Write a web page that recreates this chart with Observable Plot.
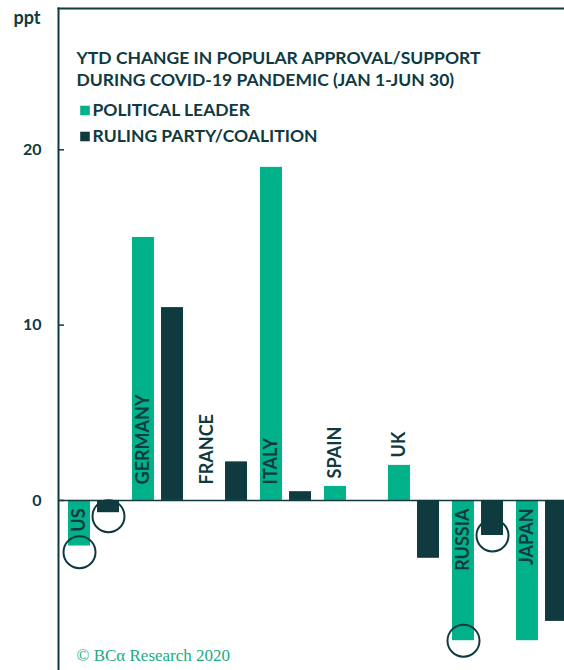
<!DOCTYPE html>
<html>
<head>
<meta charset="utf-8">
<script src="https://cdn.jsdelivr.net/npm/d3@7"></script>
<script src="https://cdn.jsdelivr.net/npm/@observablehq/plot@0.6"></script>
<style>
  html, body { margin: 0; padding: 0; background: #fff; }
  #chart svg { display: block; }
</style>
</head>
<body>
<div id="chart"></div>
<script>
// ---- data ----
const countries = ["US", "GERMANY", "FRANCE", "ITALY", "SPAIN", "UK", "RUSSIA", "JAPAN"];
const leaderValues = [-2.6, 15, 0, 19, 0.8, 2.0, -8.0, -8.0];
const partyValues = [-0.7, 11, 2.2, 0.5, 0, -3.3, -2.0, -6.9];
const yTicks = [0, 10, 20];
const titleLines = ["YTD CHANGE IN POPULAR APPROVAL/SUPPORT", "DURING COVID-19 PANDEMIC (JAN 1-JUN 30)"];
const legendLabels = ["POLITICAL LEADER", "RULING PARTY/COALITION"];
const yUnit = "ppt";
const sourceNote = "© BCα Research 2020";
// circled bar ends
const circledCountries = ["US", "US", "RUSSIA", "RUSSIA"];
const circledSeries = ["leader", "party", "leader", "party"];
const circledValues = [-2.95, -0.9, -8.0, -2.0];

// ---- styles ----
const GREEN = "#00B189";
const DARK = "#0E3A40";
const FONT = "Lato, 'Open Sans', sans-serif";
const W = 564, H = 670;
const mLeft = 58;
const yMin = -9.7, yMax = 28.06;
const barW = 23;
const half = 14.5;

const rows = countries.map((c, i) => ({country: c, leader: leaderValues[i], party: partyValues[i]}));
const circles = circledCountries.map((c, i) => ({country: c, series: circledSeries[i], value: circledValues[i]}));

const inside = rows.filter(d => d.leader >= 5 || d.leader === 0);
const above = rows.filter(d => d.leader > 0 && d.leader < 5);
const below = rows.filter(d => d.leader < 0);

const labelStyle = {
  rotate: -90, fontSize: 18, fontWeight: 700, fill: DARK, fontFamily: FONT, dx: -half
};
const headStyle = {frameAnchor: "top-left", lineAnchor: "middle", textAnchor: "start", fontWeight: 700, fill: DARK, fontFamily: FONT};

const plot = Plot.plot({
  width: W,
  height: H,
  marginLeft: mLeft,
  marginRight: 0,
  marginTop: 8,
  marginBottom: 0,
  style: {background: "#fff", color: DARK, fontFamily: FONT, overflow: "visible"},
  x: {type: "band", domain: countries, range: [mLeft, 577], paddingInner: 0.196, paddingOuter: 0.108, axis: null},
  y: {domain: [yMin, yMax], axis: null},
  marks: [
    Plot.frame({anchor: "left", stroke: DARK, strokeWidth: 2}),
    Plot.frame({anchor: "top", stroke: DARK, strokeWidth: 2}),
    Plot.barY(rows, {x: "country", y: "leader", fill: GREEN, insetRight: 52.03 - barW}),
    Plot.barY(rows, {x: "country", y: "party", fill: DARK, insetLeft: 52.03 - barW}),
    Plot.ruleY([0], {stroke: DARK, strokeWidth: 1.5}),
    // inward tick marks on the y axis
    Plot.tickY(yTicks, {y: d => d, stroke: DARK, strokeWidth: 1.5, insetRight: W - mLeft - 6}),
    Plot.axisY(yTicks, {anchor: "left", tickSize: 0, tickPadding: 17, fontSize: 16, fontWeight: 700, fill: DARK, fontFamily: FONT, label: null}),
    Plot.text(inside, {x: "country", y: () => 0, text: "country", textAnchor: "start", dy: -16, ...labelStyle}),
    Plot.text(above, {x: "country", y: "leader", text: "country", textAnchor: "start", dy: -8, ...labelStyle}),
    Plot.text(below, {x: "country", y: () => 0, text: "country", textAnchor: "end", dy: 8, ...labelStyle}),
    Plot.dot(circles.filter(d => d.series === "leader"), {x: "country", y: "value", r: 16, stroke: DARK, strokeWidth: 2, fill: "none", dx: -half}),
    Plot.dot(circles.filter(d => d.series === "party"), {x: "country", y: "value", r: 16, stroke: DARK, strokeWidth: 2, fill: "none", dx: half}),
    // unit label
    Plot.text([yUnit], {text: d => d, ...headStyle, textAnchor: "end", dx: -18, dy: 10, fontSize: 18}),
    // title
    Plot.text([titleLines[0]], {text: d => d, ...headStyle, dx: 18, dy: 50, fontSize: 17.5}),
    Plot.text([titleLines[1]], {text: d => d, ...headStyle, dx: 18, dy: 72, fontSize: 17.5}),
    // legend
    Plot.dot([legendLabels[0]], {frameAnchor: "top-left", dx: 26.5, dy: 102, symbol: "square", r: 5.4, fill: GREEN}),
    Plot.dot([legendLabels[1]], {frameAnchor: "top-left", dx: 26.5, dy: 128, symbol: "square", r: 5.4, fill: DARK}),
    Plot.text([legendLabels[0]], {text: d => d, ...headStyle, dx: 34, dy: 101.5, fontSize: 17.5}),
    Plot.text([legendLabels[1]], {text: d => d, ...headStyle, dx: 34, dy: 127.5, fontSize: 17.5}),
    // source
    Plot.text([sourceNote], {text: d => d, frameAnchor: "bottom-left", lineAnchor: "middle", dx: 18, dy: -15, textAnchor: "start", fontSize: 17, fill: "#1AAB80", fontFamily: "'Liberation Serif', 'DejaVu Serif', serif"})
  ]
});
document.getElementById("chart").appendChild(plot);
</script>
</body>
</html>
